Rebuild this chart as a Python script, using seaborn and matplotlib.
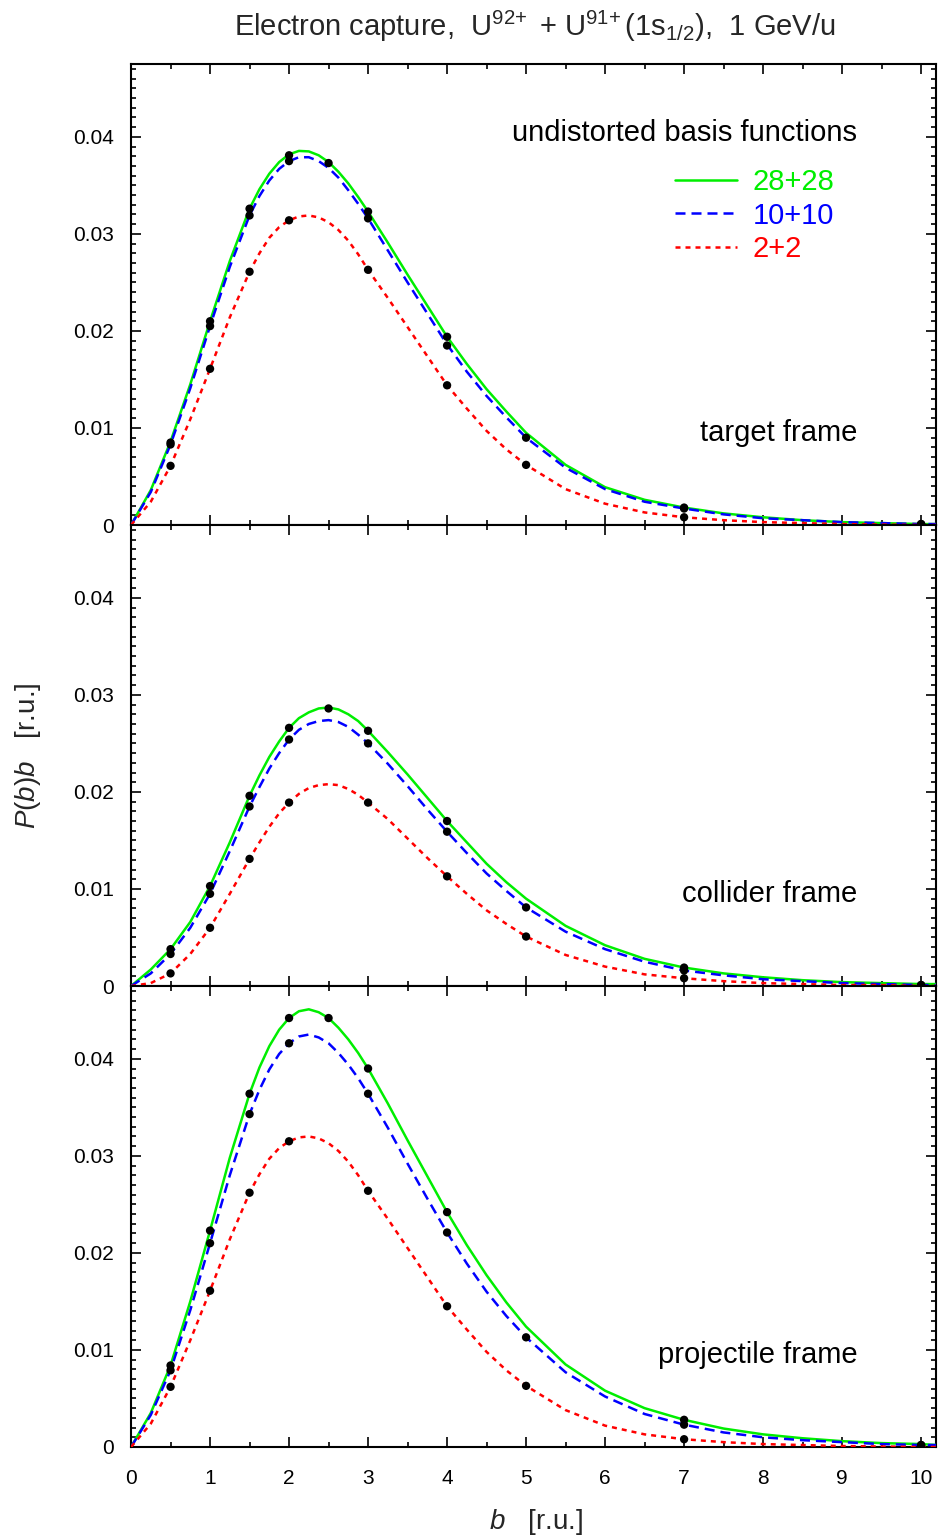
import numpy as np
import matplotlib
matplotlib.use('Agg')
import matplotlib.pyplot as plt
from matplotlib.ticker import MultipleLocator, FixedLocator, FixedFormatter
import seaborn as sns

B = [0, 0.25, 0.5, 0.75, 1, 1.25, 1.5, 1.625, 1.75, 1.875, 2, 2.125, 2.25, 2.375,
     2.5, 2.625, 2.75, 2.875, 3, 3.25, 3.5, 3.75, 4, 4.25, 4.5, 4.75, 5, 5.5, 6,
     6.5, 7, 7.5, 8, 8.5, 9, 9.5, 10, 10.2]

# target frame
target_28 = [0, .0036, .0086, .0145, .0210, .0272, .0326, .0346, .0362, .0374, .0382,
             .03855, .0385, .0381, .0374, .0364, .0352, .0338, .0323, .0291, .0258,
             .0226, .0194, .0166, .0140, .0117, .0095, .0062, .0039, .0026, .0018,
             .0012, .0008, .0005, .0003, .0002, .0001, .0001]
target_10 = [0, .0034, .0083, .0141, .0205, .0266, .0319, .0339, .0355, .0367, .0375,
             .0379, .0379, .0375, .0368, .0358, .0345, .0331, .0316, .0283, .0250,
             .0218, .0186, .0158, .0133, .0111, .0090, .0059, .0037, .0024, .0017,
             .0011, .0007, .0005, .0003, .0002, .0001, .0001]
target_2 = [0, .0024, .0061, .0109, .0161, .0214, .0261, .0280, .0296, .0307, .0314,
            .0318, .0319, .0317, .0312, .0304, .0293, .0279, .0263, .0234, .0204,
            .0174, .0144, .0120, .0097, .0078, .0062, .0037, .0022, .0013, .0008,
            .0005, .0003, .0002, .0001, .00005, 0, 0]

# collider frame
collider_28 = [0, .0017, .0038, .0066, .0103, .0148, .0196, .0217, .0236, .0252, .0266,
               .0276, .0282, .0286, .0287, .0285, .0280, .0273, .0263, .0241, .0218,
               .0194, .0170, .0148, .0126, .0107, .0090, .0062, .0042, .0028, .0019,
               .0013, .0009, .0006, .0004, .0003, .0002, .0002]
collider_10 = [0, .0013, .0033, .0060, .0095, .0139, .0185, .0205, .0224, .0240, .0254,
               .0264, .0270, .0273, .0274, .0272, .0267, .0259, .0250, .0229, .0206,
               .0182, .0159, .0137, .0116, .0098, .0081, .0056, .0038, .0025, .0016,
               .0011, .0007, .0005, .0003, .0002, .0001, .0001]
collider_2 = [0, .0003, .0013, .0033, .0060, .0095, .0131, .0148, .0164, .0178, .0189,
              .0198, .0204, .0207, .0208, .0207, .0203, .0197, .0189, .0172, .0152,
              .0132, .0113, .0095, .0078, .0064, .0051, .0032, .0020, .0012, .0008,
              .0005, .0003, .0002, .0001, .0001, 0, 0]

# projectile frame
projectile_28 = [0, .0035, .0084, .0150, .0223, .0298, .0364, .0391, .0413, .0430, .0442,
                 .0449, .0451, .0448, .0442, .0432, .0420, .0406, .0390, .0354, .0316,
                 .0279, .0242, .0208, .0177, .0149, .0124, .0085, .0058, .0040, .0028,
                 .0019, .0013, .0009, .0006, .0004, .0003, .0002]
projectile_10 = [0, .0033, .0079, .0141, .0210, .0280, .0343, .0368, .0389, .0405, .0416,
                 .0423, .0425, .0422, .0416, .0406, .0394, .0380, .0364, .0329, .0292,
                 .0256, .0221, .0189, .0160, .0135, .0113, .0077, .0052, .0034, .0023,
                 .0015, .0010, .0007, .0005, .0003, .0002, .0002]
projectile_2 = [0, .0024, .0062, .0110, .0161, .0214, .0262, .0281, .0297, .0308, .0315,
                .0319, .0320, .0318, .0313, .0305, .0294, .0280, .0264, .0235, .0205,
                .0175, .0145, .0121, .0098, .0079, .0063, .0038, .0022, .0013, .0008,
                .0005, .0003, .0002, .0001, .00005, 0, 0]

# computed points (black dots)
B_DOTS_28 = [0.5, 1, 1.5, 2, 2.5, 3, 4, 7, 10]
B_DOTS = [0.5, 1, 1.5, 2, 3, 4, 5, 7, 10]
target_dots_28 = [0.0085, 0.0210, 0.0326, 0.0381, 0.0373, 0.0323, 0.0194, 0.0018, 0.0001]
target_dots_10 = [0.0083, 0.0205, 0.0319, 0.0375, 0.0316, 0.0185, 0.0090, 0.0017, 0.0001]
target_dots_2 = [0.0061, 0.0161, 0.0261, 0.0314, 0.0263, 0.0144, 0.0062, 0.0008, 0.0]
collider_dots_28 = [0.0038, 0.0103, 0.0196, 0.0266, 0.0286, 0.0263, 0.0170, 0.0019, 0.0001]
collider_dots_10 = [0.0033, 0.0095, 0.0185, 0.0254, 0.0250, 0.0159, 0.0081, 0.0016, 0.0001]
collider_dots_2 = [0.0013, 0.0060, 0.0131, 0.0189, 0.0189, 0.0113, 0.0051, 0.0008, 0.0]
projectile_dots_28 = [0.0084, 0.0223, 0.0364, 0.0442, 0.0442, 0.0390, 0.0242, 0.0028, 0.0002]
projectile_dots_10 = [0.0079, 0.0210, 0.0343, 0.0416, 0.0364, 0.0221, 0.0113, 0.0023, 0.0002]
projectile_dots_2 = [0.0062, 0.0161, 0.0262, 0.0315, 0.0264, 0.0145, 0.0063, 0.0008, 0.0]

BASIS = ['28+28', '10+10', '2+2']
FRAMES = ['target frame', 'collider frame', 'projectile frame']
CURVES = [[target_28, target_10, target_2],
          [collider_28, collider_10, collider_2],
          [projectile_28, projectile_10, projectile_2]]
DOTS = [[target_dots_28, target_dots_10, target_dots_2],
        [collider_dots_28, collider_dots_10, collider_dots_2],
        [projectile_dots_28, projectile_dots_10, projectile_dots_2]]
YTICKS = [0, 0.01, 0.02, 0.03, 0.04]
YTICK_LABELS = ['0', '0.01', '0.02', '0.03', '0.04']
XTICKS = [0, 1, 2, 3, 4, 5, 6, 7, 8, 9, 10]

COLORS = ['#00ee00', '#0000ff', '#ff0000']
STYLES = ['-', (0, (4, 2.4)), (0, (2, 2))]

sns.set_theme(style='ticks')
plt.rcParams['font.family'] = ['Liberation Sans', 'DejaVu Sans']
plt.rcParams['mathtext.fontset'] = 'custom'
plt.rcParams['mathtext.rm'] = 'Liberation Sans'
plt.rcParams['mathtext.it'] = 'Liberation Sans:italic'

fig, axes = plt.subplots(3, 1, figsize=(9.38, 15.40), dpi=100, sharex=True)
fig.subplots_adjust(left=0.1397, right=0.998, top=0.9584, bottom=0.0604, hspace=0)

for i, ax in enumerate(axes):
    handles = []
    for j in range(3):
        sns.lineplot(x=B, y=CURVES[i][j], ax=ax, color=COLORS[j], lw=1.8,
                     linestyle=STYLES[j], label=BASIS[j], legend=False, zorder=3)
        handles.append(ax.lines[-1])
    for j in range(3):
        bx = B_DOTS_28 if j == 0 else B_DOTS
        sns.scatterplot(x=bx, y=DOTS[i][j], ax=ax, color='black', s=36,
                        edgecolor='none', zorder=5, legend=False)

    ax.set_xlim(0, 10.19)
    ax.set_ylim(0, 0.0475)
    ax.set_xlabel('')
    ax.set_ylabel('')
    ax.xaxis.set_major_locator(FixedLocator(XTICKS))
    ax.xaxis.set_minor_locator(MultipleLocator(0.5))
    ax.yaxis.set_major_locator(FixedLocator(YTICKS))
    ax.yaxis.set_major_formatter(FixedFormatter(YTICK_LABELS))
    ax.yaxis.set_minor_locator(MultipleLocator(0.001))
    ax.tick_params(which='both', direction='in', top=True, right=True,
                   color='black', width=1.2, labelsize=15, labelcolor='black')
    ax.tick_params(which='major', length=7)
    ax.tick_params(which='minor', length=3.5)
    ax.tick_params(axis='y', pad=12)
    ax.tick_params(axis='x', pad=16, labelbottom=(i == 2))
    for sp in ax.spines.values():
        sp.set_color('black')
        sp.set_linewidth(1.5)

    ax.text(0.902, 0.20, FRAMES[i], transform=ax.transAxes, ha='right',
            va='center', fontsize=21, color='black')

    if i == 0:
        ax.text(0.902, 0.850, 'undistorted basis functions', transform=ax.transAxes,
                ha='right', va='center', fontsize=21, color='black')
        leg = ax.legend(handles=handles, labels=BASIS, loc='upper left',
                        bbox_to_anchor=(0.676, 0.775), frameon=False, fontsize=21,
                        handlelength=2.1, handletextpad=0.55, labelspacing=0.2,
                        borderpad=0, borderaxespad=0)
        for t, c in zip(leg.get_texts(), COLORS):
            t.set_color(c)

fig.text(0.570, 0.9830, r'Electron capture,  U$^{92\!+}$ + U$^{91\!+}$(1s$_{1/2}$),  1 GeV/u',
         ha='center', va='center', fontsize=21)
fig.text(0.030, 0.509, r'$P(b)b$   [r.u.]', rotation=90, ha='center', va='center', fontsize=20)
fig.text(0.571, 0.012, r'$b$   [r.u.]', ha='center', va='center', fontsize=20)

fig.savefig('out.png', dpi=100)
plt.close()
